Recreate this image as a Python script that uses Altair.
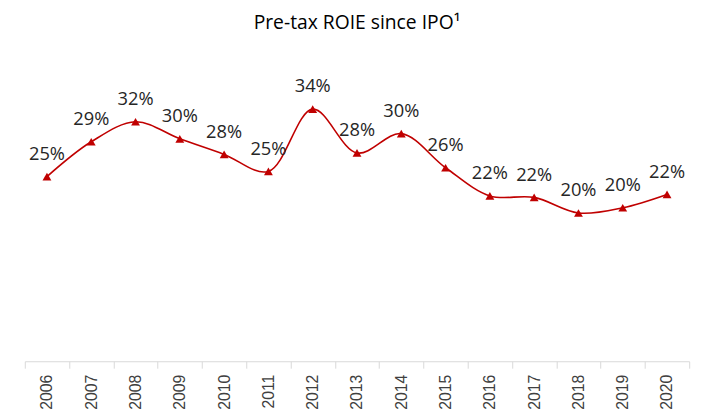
import altair as alt
import pandas as pd

years = [str(y) for y in range(2006, 2021)]
roie = [24.9, 29.6, 32.3, 30.0, 27.9, 25.6, 34.0, 28.1, 30.7, 26.1, 22.3, 22.1, 20.0, 20.7, 22.5]
labels = ["25%", "29%", "32%", "30%", "28%", "25%", "34%", "28%", "30%", "26%",
          "22%", "22%", "20%", "20%", "22%"]

df = pd.DataFrame({"year": years, "roie": roie, "label": labels})

x = alt.X("year:N", title=None, sort=years,
          scale=alt.Scale(paddingInner=0, paddingOuter=0),
          axis=alt.Axis(labelAngle=-90, labelFont="Liberation Sans", labelFontSize=16,
                        labelColor="#404040", domainColor="#d9d9d9", tickColor="#d9d9d9",
                        tickBand="extent", tickSize=7, labelPadding=6, domainWidth=1,
                        labelBaseline="middle", labelAlign="right"))
y = alt.Y("roie:Q", scale=alt.Scale(domain=[0, 40]), axis=None)

base = alt.Chart(df).encode(x=x, y=y)

line = base.mark_line(color="#C00000", strokeWidth=1.6, interpolate="catmull-rom")
pts = base.mark_point(shape="triangle-up", filled=True, color="#C00000", size=80, opacity=1)
txt = base.mark_text(dy=-23, font="Open Sans", fontSize=18.5, color="#262626").encode(text="label:N")

chart = (line + pts + txt).properties(
    width=672, height=300,
    title=alt.TitleParams("Pre-tax ROIE since IPO¹", font="Open Sans", fontSize=19.5,
                          fontWeight="normal", color="#000000", offset=32),
    autosize=alt.AutoSizeParams(type="none"),
    padding={"left": 17, "top": 55, "right": 16, "bottom": 49},
).configure_view(stroke=None)

chart.save("out.html", embed_options={"renderer": "svg", "actions": False})
